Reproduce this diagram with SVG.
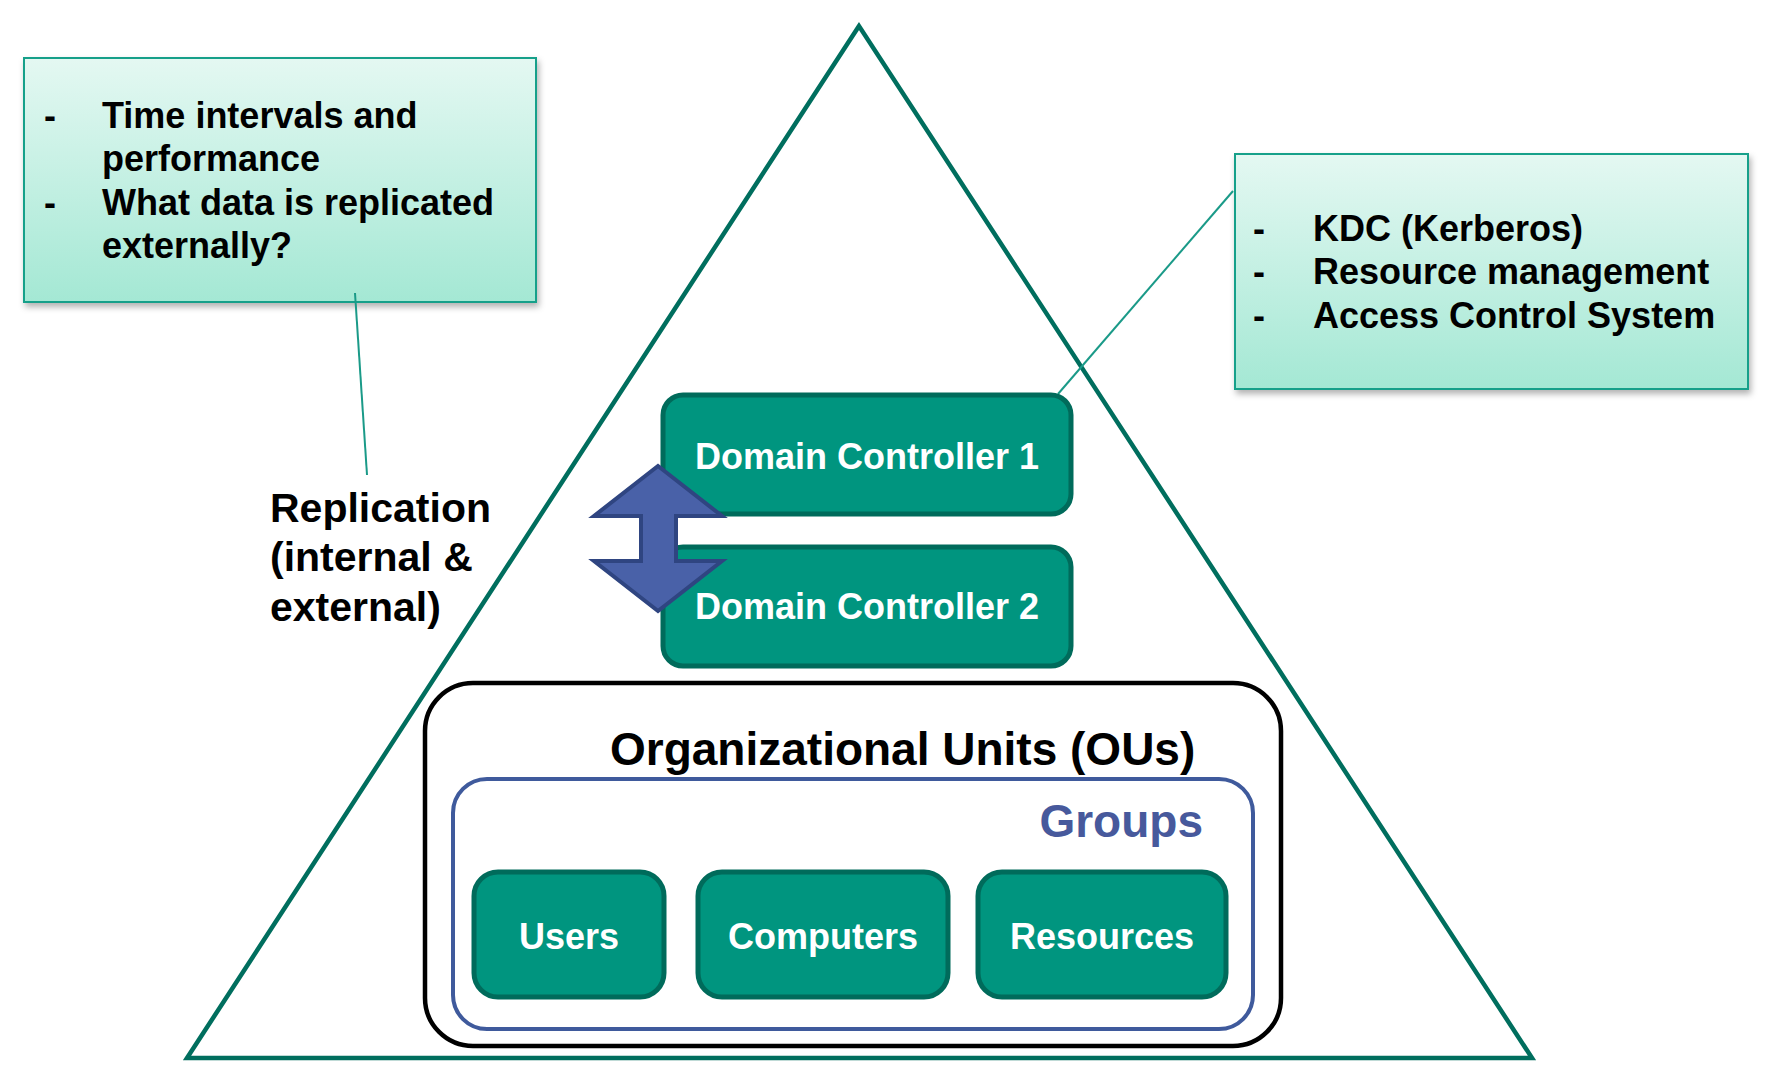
<svg xmlns="http://www.w3.org/2000/svg" width="1778" height="1080" viewBox="0 0 1778 1080">
  <defs>
    <linearGradient id="noteGrad" x1="0" y1="0" x2="0" y2="1">
      <stop offset="0" stop-color="#e4f8f2"/>
      <stop offset="1" stop-color="#a4e8d4"/>
    </linearGradient>
    <filter id="shadow" x="-10%" y="-10%" width="125%" height="130%">
      <feDropShadow dx="2" dy="4" stdDeviation="3" flood-color="#000" flood-opacity="0.3"/>
    </filter>
  </defs>
  <style>
    text { font-family: "Liberation Sans", Arial, Helvetica, sans-serif; font-weight: bold; }
    .note { fill: url(#noteGrad); stroke: #17a08a; stroke-width: 2; filter: url(#shadow); }
    .noteText { font-size: 36px; fill: #000; }
    .tealBox { fill: #00957f; stroke: #006b5b; stroke-width: 5; }
    .whiteText { font-size: 36px; fill: #fff; text-anchor: middle; }
    .conn { stroke: #1a9a88; stroke-width: 2; fill: none; }
  </style>
  <rect width="1778" height="1080" fill="#fff"/>

  <g id="pyramid">
    <polygon points="859,26 187,1058 1532,1058" fill="none" stroke="#006e5e" stroke-width="4.5" stroke-linejoin="miter"/>
  </g>

  <g id="note-replication">
    <rect class="note" x="24" y="58" width="512" height="244"/>
    <text class="noteText" x="44" y="128">-</text>
    <text class="noteText" x="102" y="128">Time intervals and</text>
    <text class="noteText" x="102" y="171">performance</text>
    <text class="noteText" x="44" y="215">-</text>
    <text class="noteText" x="102" y="215">What data is replicated</text>
    <text class="noteText" x="102" y="258">externally?</text>
  </g>

  <g id="note-dc">
    <rect class="note" x="1235" y="154" width="513" height="235"/>
    <text class="noteText" x="1253" y="241">-</text>
    <text class="noteText" x="1313" y="241">KDC (Kerberos)</text>
    <text class="noteText" x="1253" y="284">-</text>
    <text class="noteText" x="1313" y="284">Resource management</text>
    <text class="noteText" x="1253" y="328">-</text>
    <text class="noteText" x="1313" y="328">Access Control System</text>
  </g>

  <g id="connectors">
    <line class="conn" x1="355" y1="293" x2="367" y2="475"/>
    <line class="conn" x1="1233" y1="191" x2="1058" y2="394"/>
  </g>

  <g id="replication-label">
    <text x="270" y="522" font-size="41" fill="#000">Replication</text>
    <text x="270" y="571" font-size="41" fill="#000">(internal &amp;</text>
    <text x="270" y="621" font-size="41" fill="#000">external)</text>
  </g>

  <g id="dc1">
    <rect class="tealBox" x="663" y="395" width="408" height="119" rx="20"/>
    <text class="whiteText" x="867" y="469">Domain Controller 1</text>
  </g>

  <g id="dc2">
    <rect class="tealBox" x="663" y="547" width="408" height="119" rx="20"/>
    <text class="whiteText" x="867" y="619">Domain Controller 2</text>
  </g>

  <g id="replication-arrow">
    <path d="M658,466 L722,516 L676,516 L676,561 L722,561 L658,611 L594,561 L641,561 L641,516 L594,516 Z" fill="#4961a8" stroke="#2f4581" stroke-width="4" stroke-linejoin="miter"/>
  </g>

  <g id="ous">
    <rect x="425" y="683" width="856" height="363" rx="48" fill="none" stroke="#000" stroke-width="4.5"/>
    <text x="610" y="765" font-size="46" fill="#000">Organizational Units (OUs)</text>
  </g>

  <g id="groups">
    <rect x="453" y="779" width="800" height="250" rx="34" fill="none" stroke="#3f5a9c" stroke-width="4"/>
    <text x="1203" y="837" font-size="46" fill="#47599c" text-anchor="end">Groups</text>
  </g>

  <g id="users">
    <rect class="tealBox" x="474" y="872" width="190" height="125" rx="24"/>
    <text class="whiteText" x="569" y="949">Users</text>
  </g>

  <g id="computers">
    <rect class="tealBox" x="698" y="872" width="250" height="125" rx="24"/>
    <text class="whiteText" x="823" y="949">Computers</text>
  </g>

  <g id="resources">
    <rect class="tealBox" x="978" y="872" width="248" height="125" rx="24"/>
    <text class="whiteText" x="1102" y="949">Resources</text>
  </g>
</svg>
